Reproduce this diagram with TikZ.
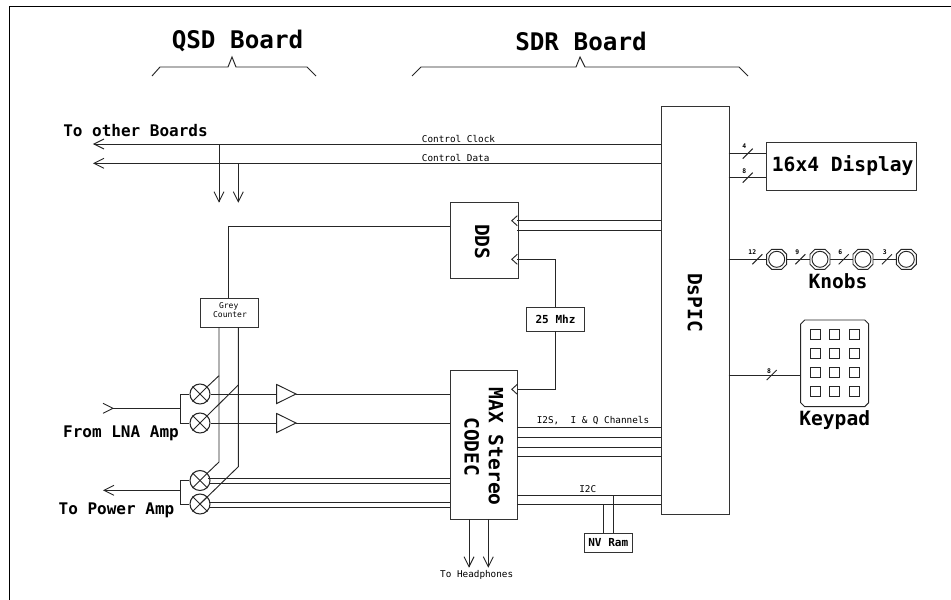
\documentclass[tikz,border=0pt]{standalone}
\usepackage{fontspec}
\setmainfont{DejaVu Sans Mono}
\newcommand{\fs}[1]{\fontsize{#1}{#1}\selectfont}
\tikzset{
  wire/.style={line width=0.7pt,black!85},
  box/.style={draw=black!80,line width=0.8pt,fill=white},
  txt/.style={inner sep=0pt,text=black,align=center},
  hd/.style={txt,font=\fs{18.2}\bfseries},
  big/.style={txt,font=\fs{12}\bfseries},
  wide/.style={txt,font=\fs{14.7}\bfseries},
  mid/.style={txt,font=\fs{8.3}\bfseries},
  small/.style={txt,font=\fs{6}},
  tiny/.style={txt,font=\fs{7}},
  lab/.style={txt,font=\fs{4.8}\bfseries},
  mix/.style={circle,draw=black!85,line width=0.8pt,minimum size=15pt,inner sep=0pt,fill=white},
}
\newcommand{\chevL}[2]{\draw[wire] ({#1+10},{#2-5}) -- (#1,#2) -- ({#1+10},{#2+5});}
\newcommand{\chevR}[2]{\draw[wire] ({#1-10},{#2-5}) -- (#1,#2) -- ({#1-10},{#2+5});}
\newcommand{\chevD}[2]{\draw[wire] ({#1-5},{#2-10}) -- (#1,#2) -- ({#1+5},{#2-10});}
\newcommand{\clockin}[2]{\draw[wire] (#1,{#2-5}) -- ({#1-5.5},#2) -- (#1,{#2+5});}
\newcommand{\slsh}[2]{\draw[wire] ({#1-5},{#2+5}) -- ({#1+5},{#2-5});}
\begin{document}
\begin{tikzpicture}[x=0.75pt,y=-0.75pt]
\useasboundingbox (0,0) rectangle (951,600);
\coordinate (fb) at (9.5,600); \coordinate (fc) at (9.5,6.5); \coordinate (fr) at (951,6.5);
\draw[line width=1.2pt] (fb) -- (fc) -- (fr);
% titles
\node[hd] (tq) at (237.5,41) {QSD Board};
\node[hd] (ts) at (581,41) {SDR Board};
\draw[wire] (152,76) -- (160,67) -- (228,67) -- (232,57) -- (236,67) -- (307,67) -- (316,76);
\draw[wire] (412,76) -- (421,67) -- (576,67) -- (580,57) -- (585,67) -- (739,67) -- (748,76);
% main boxes
\node[box,minimum width=50.7pt,minimum height=306.2pt,anchor=north west] (pic) at (661,105.7) {};
\node[box,minimum width=51pt,minimum height=57.5pt,anchor=north west] (dds) at (449.5,201.7) {};
\node[box,minimum width=50.7pt,minimum height=111.7pt,anchor=north west] (codec) at (449.7,370) {};
\node[box,minimum width=43.5pt,minimum height=18pt,anchor=north west] (clk) at (526.3,307.3) {};
\node[box,minimum width=43.5pt,minimum height=22pt,anchor=north west] (grey) at (199.7,297.7) {};
\node[box,minimum width=36pt,minimum height=14.3pt,anchor=north west] (nv) at (584.3,533.3) {};
\node[box,minimum width=112pt,minimum height=36pt,anchor=north west] (disp) at (766.3,141.7) {};
\node[rotate=-90,wide] (tpic) at (695,302.5) {DsPIC};
\node[rotate=-90,wide] (tdds) at (482.3,241.7) {DDS};
\node[rotate=-90,wide] (tmax) at (496,446.7) {MAX Stereo};
\node[rotate=-90,wide] (tcod) at (471.7,446.7) {CODEC};
\node[mid] (tclk) at (555.5,319.5) {25 Mhz};
\node[small] (tg1) at (228.7,306) {Grey};
\node[small] (tg2) at (230,315) {Counter};
\node[mid] (tnv) at (608.3,542.5) {NV Ram};
\node[wide] (tdisp) at (842.7,165.3) {16x4 Display};
% control bus
\coordinate (cc) at (94,144); \coordinate (cd) at (94,163.3);
\draw[wire] (661,144) -- (cc); \draw[wire] (661,163.3) -- (cd);
\chevL{94}{144} \chevL{94}{163.3}
\draw[wire] (219,144) -- (219,201.7); \draw[wire] (238.3,163.3) -- (238.3,201.7);
\chevD{219}{201.7} \chevD{238.3}{201.7}
\node[tiny,anchor=west] (tcc) at (421.7,138.7) {Control Clock};
\node[tiny,anchor=west] (tcd) at (421.7,157.7) {Control Data};
\node[big] (tob) at (135.5,130.7) {To other Boards};
% DDS connections
\draw[wire] (661,220.7) -- (517.3,220.7); \draw[wire] (661,230.7) -- (517.3,230.7);
\clockin{517.3}{220.7} \clockin{517.3}{259.3}
\draw[wire] (449.5,226) -- (228.5,226) -- (228.5,297.7);
\draw[wire] (517.3,259.3) -- (555.7,259.3) -- (555.7,307.3);
\draw[wire] (555.7,331.3) -- (555.7,389.3) -- (517.3,389.3);
\clockin{517.3}{389.3}
% mixers
\node[mix] (m1) at (200,394) {};
\node[mix] (m2) at (200,423) {};
\node[mix] (m3) at (200,480.5) {};
\node[mix] (m4) at (200,504) {};
\foreach \m in {m1,m2,m3,m4}{
  \draw[wire] (\m.north west) -- (\m.south east);
  \draw[wire] (\m.north east) -- (\m.south west);
}
\draw[wire] (219,327) -- (219,462) -- (m3.north east);
\draw[wire] (219,375.7) -- (m1.north east);
\draw[wire] (238.3,327) -- (238.3,466.7) -- (m4.center);
\draw[wire] (238.3,385) -- (m2.north east);
% inputs
\draw[wire] (m1.west) -- (180.3,394) -- (180.3,423) -- (m2.west);
\draw[wire] (180.3,408.3) -- (113,408.3);
\chevR{113}{408.3}
\draw[wire] (m3.west) -- (180.3,480.5) -- (180.3,504) -- (m4.west);
\draw[wire] (180.3,490.3) -- (104,490.3);
\chevL{104}{490.3}
\node[big] (tlna) at (121,433) {From LNA Amp};
\node[big] (tpa) at (116.5,510) {To Power Amp};
% amps
\draw[wire,fill=white] (276.7,384.5) -- (296,394) -- (276.7,403.5) -- cycle;
\draw[wire,fill=white] (276.7,413.5) -- (296,423) -- (276.7,432.5) -- cycle;
\draw[wire] (m1.east) -- (276.7,394); \draw[wire] (296,394) -- (449.7,394);
\draw[wire] (m2.east) -- (276.7,423); \draw[wire] (296,423) -- (449.7,423);
\draw[wire] (208,478) -- (449.7,478); \draw[wire] (209,483) -- (449.7,483);
\draw[wire] (209,502.3) -- (449.7,502.3); \draw[wire] (209,507) -- (449.7,507);
% I2S
\foreach \y in {427.7,437.3,447,456.7} \draw[wire] (517.3,\y) -- (661,\y);
\node[tiny] (ti2s) at (593,421) {I2S,\ \ I \& Q Channels};
% I2C
\draw[wire] (517.3,495) -- (661,495); \draw[wire] (517.3,504.7) -- (661,504.7);
\node[tiny] (ti2c) at (587.7,489) {I2C};
\draw[wire] (603.3,504.7) -- (603.3,533.3); \draw[wire] (613,495) -- (613,533.3);
% headphones
\draw[wire] (469,519) -- (469,566.7); \draw[wire] (488.3,519) -- (488.3,566.7);
\chevD{469}{566.7} \chevD{488.3}{566.7}
\node[tiny] (thp) at (476.7,575) {To Headphones};
% display
\draw[wire] (728.7,153.7) -- (766.3,153.7); \draw[wire] (728.7,177.7) -- (766.3,177.7);
\slsh{747.7}{153.7} \slsh{747.7}{177.7}
\node[lab] (l4) at (744.3,146.3) {4}; \node[lab] (l8) at (744.3,170.7) {8};
% knobs
\draw[wire] (728.7,259.3) -- (906,259.3);
\foreach \x in {776.7,820,863,906.3}{
  \draw[wire,fill=white] ({\x-5},249.3) -- ({\x+5},249.3) -- ({\x+10},254.3) -- ({\x+10},264.3) -- ({\x+5},269.3) -- ({\x-5},269.3) -- ({\x-10},264.3) -- ({\x-10},254.3) -- cycle;
  \draw[wire] (\x,259.3) circle[radius=8];
}
\slsh{757.3}{259.3} \slsh{800.3}{259.3} \slsh{843.7}{259.3} \slsh{887}{259.3}
\node[lab] (l12) at (752.3,252.3) {12}; \node[lab] (l9) at (797.3,252.3) {9};
\node[lab] (l6) at (840.3,252.3) {6}; \node[lab] (l3) at (884.7,252.3) {3};
\node[wide] (tkn) at (838,281) {Knobs};
% keypad
\draw[wire] (728.7,375) -- (800.7,375);
\slsh{771.7}{375} \node[lab] (lk) at (769,370.7) {8};
\draw[wire] (804.7,320) -- (864.7,320) -- (868.7,324) -- (868.7,402.7) -- (864.7,406.7) -- (804.7,406.7) -- (800.7,402.7) -- (800.7,324) -- cycle;
\foreach \x in {815.3,834.7,854} \foreach \y in {334.3,353.7,372.7,391.7}
  \draw[wire] ({\x-5},{\y-5}) rectangle ({\x+5},{\y+5});
\node[wide] (tkp) at (834.7,420) {Keypad};
\end{tikzpicture}
\end{document}
